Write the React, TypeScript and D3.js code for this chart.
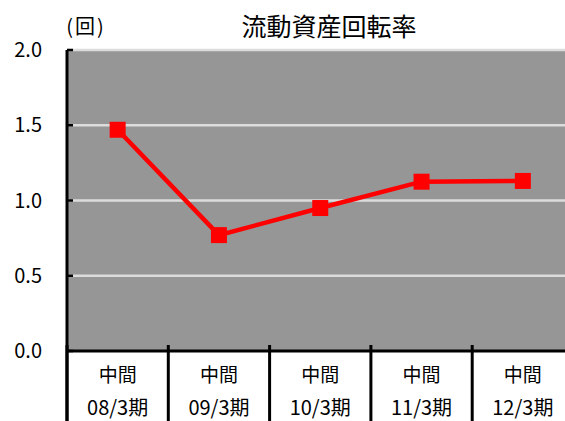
import React from "react";
import * as d3 from "d3";

const categories = ["08/3期", "09/3期", "10/3期", "11/3期", "12/3期"];
const subLabels = ["中間", "中間", "中間", "中間", "中間"];
const values = [1.47, 0.77, 0.95, 1.125, 1.13];
const yTicks = [0, 0.5, 1.0, 1.5, 2.0];
const title = "流動資産回転率";
const unit = "(回)";

export default function App() {
  const W = 565, H = 421;
  const left = 67, top = 50, bottom = 351;
  const bandW = 101.3;
  const x = d3.scaleBand<string>().domain(categories).range([left, left + bandW * categories.length]).paddingInner(0).paddingOuter(0);
  const y = d3.scaleLinear().domain([0, 2]).range([bottom, top]);
  const line = d3.line<number>()
    .x((_, i) => (x(categories[i]) as number) + x.bandwidth() / 2)
    .y((d) => y(d));
  const font = "'Noto Sans CJK JP', 'DejaVu Sans', sans-serif";
  const right = left + bandW * categories.length;
  return (
    <svg width={W} height={H} style={{ position: "absolute", left: 0, top: 0, background: "#fff" }}>
      <rect x={left} y={top} width={right - left} height={bottom - top} fill="#969696" />
      {yTicks.filter((t) => t > 0).map((t) => (
        <line key={t} x1={left} x2={right} y1={y(t)} y2={y(t)} stroke="#dcdcdc" strokeWidth={2.5} />
      ))}
      {yTicks.map((t) => (
        <line key={"tk" + t} x1={left} x2={left + 6} y1={y(t)} y2={y(t)} stroke="#000" strokeWidth={2.5} />
      ))}
      {categories.map((c, i) => (
        <line key={"sep" + i} x1={(x(c) as number)} x2={(x(c) as number)} y1={bottom - 6} y2={H} stroke="#000" strokeWidth={3} />
      ))}
      <line x1={left} x2={left} y1={top} y2={H} stroke="#000" strokeWidth={3} />
      <line x1={left} x2={right} y1={bottom} y2={bottom} stroke="#000" strokeWidth={3} />
      <path d={line(values) || ""} fill="none" stroke="#ff0000" strokeWidth={4.5} />
      {values.map((v, i) => (
        <rect key={"m" + i} x={(x(categories[i]) as number) + x.bandwidth() / 2 - 8} y={y(v) - 8} width={16} height={16} fill="#ff0000" />
      ))}
      {yTicks.map((t) => (
        <text key={"yl" + t} x={42} y={y(t) + 7} textAnchor="end" fontFamily={font} fontSize={20} fill="#000">
          {t.toFixed(1)}
        </text>
      ))}
      {categories.map((c, i) => (
        <g key={"cl" + i}>
          <text x={(x(c) as number) + x.bandwidth() / 2} y={382} textAnchor="middle" fontFamily={font} fontSize={19} fill="#000">
            {subLabels[i]}
          </text>
          <text x={(x(c) as number) + x.bandwidth() / 2} y={415} textAnchor="middle" fontFamily={font} fontSize={20} fill="#000">
            {c}
          </text>
        </g>
      ))}
      <text x={86} y={34} textAnchor="middle" fontFamily={font} fontSize={20} letterSpacing={2} fill="#000">{unit}</text>
      <text x={329} y={36} textAnchor="middle" fontFamily={font} fontSize={25} fill="#000">{title}</text>
    </svg>
  );
}
